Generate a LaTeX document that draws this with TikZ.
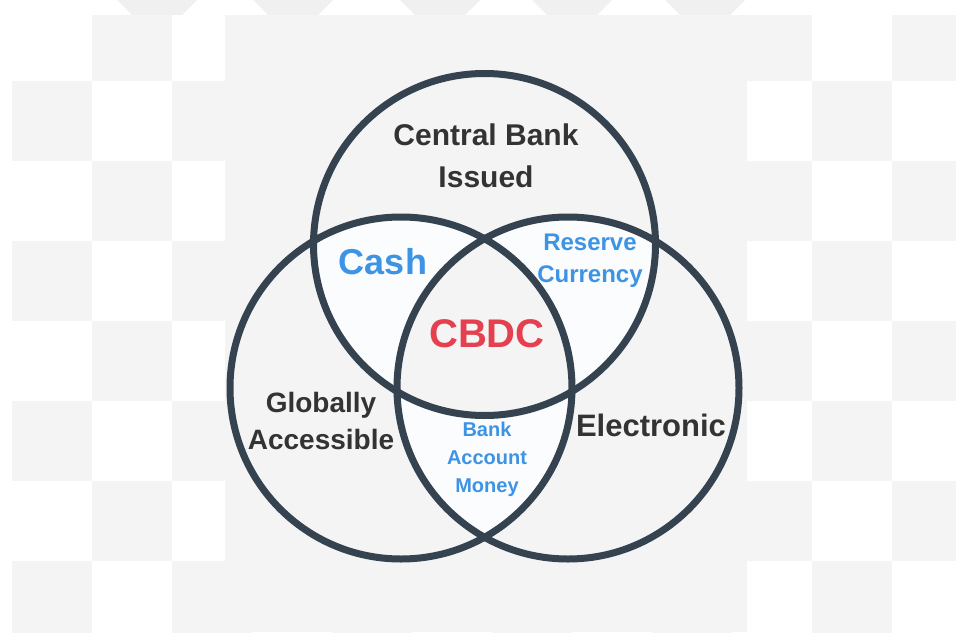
\documentclass[tikz,border=0pt]{standalone}
\usepackage{fontspec}
\setmainfont{Liberation Sans}
\definecolor{panelgray}{HTML}{F4F4F4}
\definecolor{stripegray}{HTML}{F0F0F0}
\definecolor{ringcol}{HTML}{34434F}
\definecolor{lenscol}{HTML}{FBFCFE}
\definecolor{labeldark}{HTML}{333333}
\definecolor{labelblue}{HTML}{3D93E4}
\definecolor{labelred}{HTML}{E4404F}
\tikzset{
  ring/.style={draw=ringcol, line width=7pt},
  setlabel/.style={text=labeldark, font=\bfseries, align=center, inner sep=0pt},
  pairlabel/.style={text=labelblue, font=\bfseries, align=center, inner sep=0pt},
  corelabel/.style={text=labelred, font=\bfseries, inner sep=0pt},
}
\newcommand{\fs}[2]{\fontsize{#1}{#2}\selectfont}
\begin{document}
\begin{tikzpicture}[x=1pt,y=-1pt]
\useasboundingbox (0,0) rectangle (956,632);
\fill[white] (0,0) rectangle (956,632);
% faded stripes along the top edge
\foreach \cx in {157,293,440,572,705}{
  \fill[stripegray] (\cx-40,0) -- (\cx+40,0) -- (\cx+25,15) -- (\cx-25,15) -- cycle;
}
% checkerboard backdrop
\begin{scope}
\clip (12,15) rectangle (956,632);
\fill[white] (12,15) rectangle (956,632);
\foreach \r in {0,...,7}{
  \foreach \c in {0,...,11}{
    \pgfmathtruncatemacro\cellparity{mod(\r+\c,2)}
    \ifnum\cellparity=1
      \fill[panelgray] (12+80*\c,1+80*\r) rectangle (92+80*\c,81+80*\r);
    \fi
  }
}
\end{scope}
% central panel
\fill[panelgray] (225,15) rectangle (747,632);
% circle centres
\coordinate (ct) at (484.5,244.5);
\coordinate (cl) at (401,388);
\coordinate (cr) at (568,388);
\def\rad{171}
% pairwise overlaps
\begin{scope}\clip (ct) circle (\rad); \fill[lenscol] (cl) circle (\rad); \fill[lenscol] (cr) circle (\rad); \end{scope}
\begin{scope}\clip (cl) circle (\rad); \fill[lenscol] (cr) circle (\rad); \end{scope}
% triple overlap
\begin{scope}\clip (ct) circle (\rad); \clip (cl) circle (\rad); \fill[panelgray] (cr) circle (\rad); \end{scope}
% rings
\draw[ring] (ct) circle (\rad);
\draw[ring] (cl) circle (\rad);
\draw[ring] (cr) circle (\rad);
% labels
\node[setlabel, font=\bfseries\fs{30}{42}] (issued) at (486,156) {Central Bank\\Issued};
\node[setlabel, font=\bfseries\fs{28}{37}] (global) at (321,421) {Globally\\Accessible};
\node[setlabel, font=\bfseries\fs{31}{36}] (elec) at (651,425) {Electronic};
\node[pairlabel, font=\bfseries\fs{36}{40}] (cash) at (383,262) {Cash};
\node[pairlabel, font=\bfseries\fs{24}{32}] (reserve) at (590,261) {Reserve\\Currency};
\node[pairlabel, font=\bfseries\fs{20}{28}] (bank) at (487,459) {Bank\\Account\\Money};
\node[corelabel, font=\bfseries\fs{40}{44}] (cbdc) at (487,334) {CBDC};
\end{tikzpicture}
\end{document}
